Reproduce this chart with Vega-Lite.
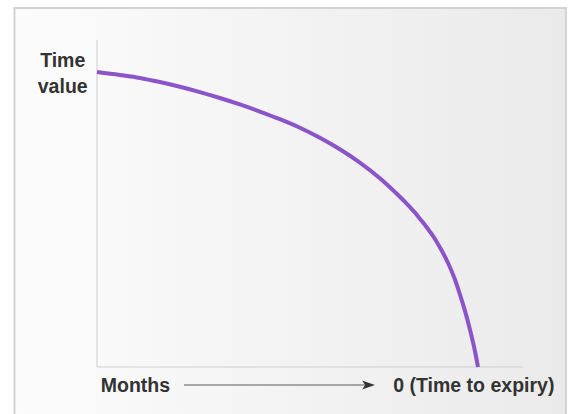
{
  "$schema": "https://vega.github.io/schema/vega-lite/v6.json",
  "width": 568,
  "height": 414,
  "autosize": {"type": "fit", "contains": "padding"},
  "padding": 0,
  "background": "#ffffff",
  "config": {"view": {"stroke": null}},
  "data": {"values": [{}]},
  "datasets": {
    "curve": [
      {"months": 12.0, "time_value": 100.0},
      {"months": 11.28, "time_value": 99.0},
      {"months": 10.65, "time_value": 98.0},
      {"months": 10.02, "time_value": 96.6},
      {"months": 9.39, "time_value": 95.0},
      {"months": 8.76, "time_value": 93.2},
      {"months": 8.13, "time_value": 91.2},
      {"months": 7.5, "time_value": 89.0},
      {"months": 6.87, "time_value": 86.6},
      {"months": 6.24, "time_value": 84.0},
      {"months": 5.61, "time_value": 81.1},
      {"months": 4.98, "time_value": 77.7},
      {"months": 4.35, "time_value": 73.8},
      {"months": 3.72, "time_value": 69.3},
      {"months": 3.09, "time_value": 64.0},
      {"months": 2.46, "time_value": 57.7},
      {"months": 2.3, "time_value": 56.0},
      {"months": 2.14, "time_value": 54.17},
      {"months": 1.98, "time_value": 52.27},
      {"months": 1.83, "time_value": 50.27},
      {"months": 1.67, "time_value": 48.14},
      {"months": 1.51, "time_value": 45.83},
      {"months": 1.35, "time_value": 43.32},
      {"months": 1.2, "time_value": 40.54},
      {"months": 1.04, "time_value": 37.39},
      {"months": 0.88, "time_value": 33.73},
      {"months": 0.72, "time_value": 29.49},
      {"months": 0.57, "time_value": 24.64},
      {"months": 0.41, "time_value": 19.02},
      {"months": 0.25, "time_value": 12.54},
      {"months": 0.09, "time_value": 5.08},
      {"months": 0.0, "time_value": 0.0}
    ]
  },
  "layer": [
    {
      "mark": {
        "type": "rect",
        "clip": true,
        "stroke": "#d2d2d2",
        "strokeWidth": 2,
        "fill": {
          "gradient": "linear",
          "x1": 0, "y1": 0, "x2": 1, "y2": 0,
          "stops": [
            {"offset": 0, "color": "#fcfcfc"},
            {"offset": 1, "color": "#eaeaea"}
          ]
        }
      },
      "encoding": {
        "x": {"datum": 14.6, "type": "quantitative", "scale": {"domain": [15.055, -2.835], "nice": false, "zero": false}, "axis": null},
        "x2": {"datum": -2.77},
        "y": {"datum": 121.7, "type": "quantitative", "scale": {"domain": [-15.93, 124.41], "nice": false, "zero": false}, "axis": null},
        "y2": {"datum": -20}
      }
    },
    {
      "mark": {"type": "rule", "color": "#cfcfcf", "strokeWidth": 1},
      "encoding": {
        "x": {"datum": 12.0, "type": "quantitative"},
        "y": {"datum": 0, "type": "quantitative"},
        "y2": {"datum": 110.85}
      }
    },
    {
      "mark": {"type": "rule", "color": "#cfcfcf", "strokeWidth": 1},
      "encoding": {
        "x": {"datum": 12.0, "type": "quantitative"},
        "x2": {"datum": -1.42},
        "y": {"datum": 0, "type": "quantitative"}
      }
    },
    {
      "data": {"name": "curve"},
      "mark": {"type": "line", "color": "#8b54c8", "strokeWidth": 4, "interpolate": "monotone"},
      "encoding": {
        "x": {"field": "months", "type": "quantitative"},
        "y": {"field": "time_value", "type": "quantitative"}
      }
    },
    {
      "mark": {"type": "text", "text": "Time", "font": "Liberation Sans", "fontWeight": "bold", "fontSize": 19.5, "color": "#333333", "align": "center", "baseline": "alphabetic"},
      "encoding": {
        "x": {"datum": 13.08, "type": "quantitative"},
        "y": {"datum": 101.8, "type": "quantitative"}
      }
    },
    {
      "mark": {"type": "text", "text": "value", "font": "Liberation Sans", "fontWeight": "bold", "fontSize": 19.5, "color": "#333333", "align": "center", "baseline": "alphabetic"},
      "encoding": {
        "x": {"datum": 13.08, "type": "quantitative"},
        "y": {"datum": 92.8, "type": "quantitative"}
      }
    },
    {
      "mark": {"type": "text", "text": "Months", "font": "Liberation Sans", "fontWeight": "bold", "fontSize": 19.5, "color": "#333333", "align": "left", "baseline": "alphabetic"},
      "encoding": {
        "x": {"datum": 11.88, "type": "quantitative"},
        "y": {"datum": -8.64, "type": "quantitative"}
      }
    },
    {
      "mark": {"type": "text", "text": "0 (Time to expiry)", "font": "Liberation Sans", "fontWeight": "bold", "fontSize": 19.5, "color": "#333333", "align": "left", "baseline": "alphabetic"},
      "encoding": {
        "x": {"datum": 2.668, "type": "quantitative"},
        "y": {"datum": -8.64, "type": "quantitative"}
      }
    },
    {
      "mark": {"type": "rule", "color": "#5a5a5a", "strokeWidth": 1},
      "encoding": {
        "x": {"datum": 9.26, "type": "quantitative"},
        "x2": {"datum": 3.35},
        "y": {"datum": -6.1, "type": "quantitative"}
      }
    },
    {
      "mark": {"type": "point", "filled": true, "color": "#333333", "opacity": 1, "size": 169, "shape": "M1,0 L-1,-0.7 L-0.5,0 L-1,0.7 Z"},
      "encoding": {
        "x": {"datum": 3.449, "type": "quantitative"},
        "y": {"datum": -6.1, "type": "quantitative"}
      }
    }
  ]
}
